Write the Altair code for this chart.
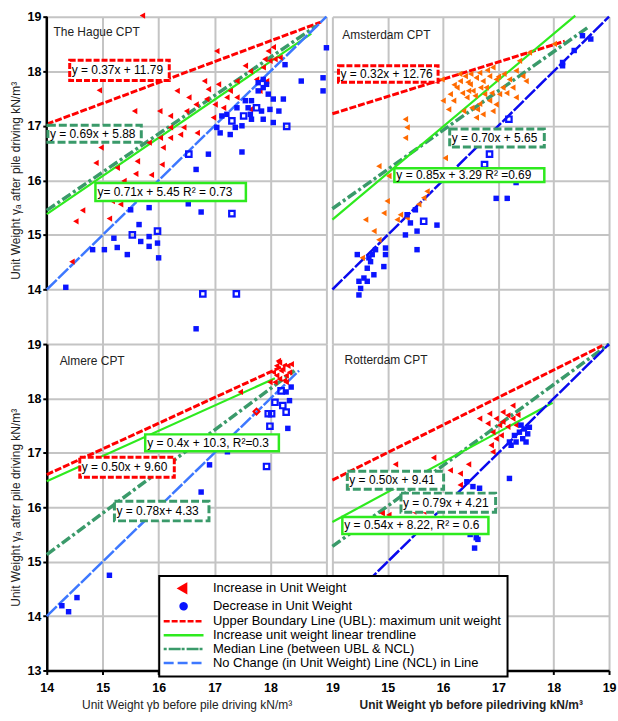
import altair as alt
import pandas as pd

FONT = "Liberation Sans"
RED = "#ff0000"
ORANGE = "#ff6a00"
BLUE = "#0a14ff"
GREEN = "#2eea1e"
MED = "#3a9a6a"
NCL_LIGHT = "#3d78ff"
NCL_DARK = "#0a0aee"

# ---------------- The Hague ----------------
hague_increase = [(15.71, 19.02), (14.94, 17.65), (15.57, 17.27), (14.88, 16.32), (14.97, 16.60),
                  (14.64, 15.45), (14.52, 15.25), (14.45, 14.51), (15.12, 15.30), (15.17, 15.62),
                  (15.32, 15.56), (15.26, 16.23), (15.38, 15.99), (15.59, 16.12), (15.62, 16.35),
                  (15.87, 16.10), (16.06, 16.29), (16.03, 16.78), (16.02, 17.27), (16.21, 17.18),
                  (16.21, 16.78), (16.39, 16.84), (16.45, 16.97), (16.33, 17.64), (16.54, 17.52),
                  (16.50, 17.27), (16.67, 17.39), (16.82, 17.82), (16.89, 17.67), (17.07, 17.76),
                  (17.04, 18.37), (17.22, 17.52), (17.28, 17.64), (17.40, 17.52), (17.16, 17.33),
                  (17.01, 17.39), (16.98, 17.15), (17.40, 17.82), (17.64, 18.00), (17.75, 17.85),
                  (17.87, 18.07), (17.90, 18.22), (17.96, 18.37), (18.05, 18.44), (18.08, 18.22),
                  (17.99, 18.19), (18.17, 18.25), (17.64, 17.30), (17.93, 17.82), (17.81, 17.64),
                  (17.55, 18.10), (16.86, 17.49), (16.69, 16.87), (16.21, 16.97), (16.08, 16.60),
                  (15.83, 16.69)]
hague_decrease = [(14.34, 14.04), (14.82, 14.73), (15.03, 14.73), (15.26, 14.77), (15.44, 14.64),
                  (15.20, 14.94), (15.68, 14.88), (15.83, 14.79), (15.83, 14.97), (15.98, 14.85),
                  (16.00, 14.58), (15.65, 15.19), (15.50, 15.46), (15.83, 15.50), (16.53, 15.57),
                  (16.76, 15.42), (16.67, 16.20), (16.89, 16.48), (17.13, 17.18), (17.22, 17.21),
                  (17.04, 16.97), (17.10, 16.87), (17.28, 16.84), (17.37, 16.97), (17.49, 17.00),
                  (17.49, 16.52), (17.64, 17.21), (17.55, 17.46), (17.66, 17.46), (17.84, 17.27),
                  (17.78, 17.64), (17.87, 17.70), (17.93, 17.76), (17.96, 17.58), (18.05, 17.49),
                  (17.99, 17.30), (18.15, 17.27), (18.05, 17.06), (17.87, 17.12), (17.66, 17.12),
                  (18.23, 17.49), (18.26, 18.12), (18.55, 17.82), (18.94, 17.88), (18.94, 17.64),
                  (17.87, 17.85), (17.78, 17.79), (17.40, 17.33), (17.60, 17.33), (19.00, 18.43),
                  (16.67, 13.28)]
hague_decrease_open = [(15.53, 15.00), (15.98, 15.07), (16.54, 16.48), (16.79, 13.92), (17.39, 13.92),
                       (17.31, 15.39), (18.29, 16.99), (17.75, 17.33), (17.52, 17.18), (17.31, 17.09)]
hague_ubl = [(14.0, 17.03), (18.9, 18.9)]
hague_median = [(14.0, 15.45), (18.82, 18.83)]
hague_trend = [(14.0, 15.38), (18.73, 18.69)]
hague_ncl = [(14.0, 14.0), (19.0, 19.0)]
hague_eqs = [("ubl", "y = 0.37x + 11.79", 14.41, 16.19, 18.20, 17.83),
             ("med", "y = 0.69x + 5.88", 14.02, 15.69, 17.01, 16.70),
             ("trend", "y= 0.71x + 5.45  R² = 0.73", 14.87, 17.56, 15.95, 15.62)]

# ---------------- Amsterdam ----------------
amsterdam_increase = [(15.98, 17.85), (16.00, 17.46), (16.10, 17.30), (16.25, 17.70), (16.31, 17.82),
                      (16.40, 17.91), (16.49, 17.76), (16.54, 17.64), (16.60, 17.88), (16.66, 17.97),
                      (16.72, 17.82), (16.78, 17.70), (16.84, 17.91), (16.90, 18.07), (16.96, 17.85),
                      (16.43, 17.52), (16.52, 17.33), (16.37, 17.27), (16.60, 17.15), (16.72, 17.21),
                      (16.84, 17.46), (16.90, 17.27), (17.02, 17.58), (17.08, 17.70), (17.20, 17.85),
                      (17.32, 18.01), (17.44, 17.91), (17.32, 17.52), (17.26, 17.70), (17.38, 18.19),
                      (17.56, 18.34), (18.01, 18.50), (17.50, 17.82), (16.19, 17.46), (16.13, 17.58),
                      (16.46, 17.64), (16.75, 17.58), (16.96, 17.39), (15.32, 17.12), (15.35, 16.97),
                      (15.32, 16.78), (16.04, 16.41), (14.84, 16.26), (15.02, 16.08), (15.71, 15.80),
                      (15.65, 15.68), (15.56, 15.56), (14.99, 15.62), (14.93, 15.40), (14.60, 15.28),
                      (14.75, 15.07), (15.17, 15.28), (14.84, 14.91), (14.54, 14.58), (15.35, 15.31),
                      (15.23, 15.37), (16.66, 17.40), (16.30, 17.95), (16.80, 18.02), (17.10, 17.95),
                      (16.35, 17.60), (16.58, 17.55), (16.68, 17.70), (16.45, 17.80), (16.88, 17.60),
                      (17.00, 17.90), (16.20, 17.75), (16.62, 17.30), (17.15, 17.60), (16.50, 17.95)]
amsterdam_decrease = [(14.48, 13.90), (14.51, 14.02), (14.57, 14.21), (14.63, 14.39), (14.69, 14.51),
                      (14.75, 14.27), (14.63, 14.15), (14.72, 14.64), (14.78, 14.73), (14.96, 14.76),
                      (14.96, 14.64), (14.93, 14.42), (15.35, 15.37), (15.32, 15.00), (15.41, 15.22),
                      (15.53, 15.07), (15.89, 15.18), (15.53, 14.73), (15.50, 15.46), (16.96, 15.67),
                      (17.16, 15.67), (17.32, 15.96), (18.16, 18.10), (18.37, 18.38), (18.52, 18.65),
                      (18.67, 18.59), (18.16, 18.16), (14.45, 14.64), (14.66, 14.58), (14.48, 14.15)]
amsterdam_decrease_open = [(15.65, 15.25), (16.84, 16.48), (16.75, 16.29), (17.19, 17.12)]
amsterdam_ubl = [(14.0, 17.22), (18.2, 18.55)]
amsterdam_median = [(14.0, 15.48), (18.64, 18.82)]
amsterdam_trend = [(14.0, 15.28), (18.39, 19.02)]
amsterdam_ncl = [(14.0, 14.0), (19.0, 19.0)]
amsterdam_eqs = [("ubl", "y = 0.32x + 12.76", 14.11, 15.91, 18.10, 17.80),
                 ("med", "y = 0.70x + 5.65", 16.12, 17.83, 16.94, 16.61),
                 ("trend", "y = 0.85x + 3.29 R² =0.69", 15.12, 17.83, 16.22, 15.97)]

# ---------------- Almere ----------------
almere_increase = [(17.46, 18.12), (17.99, 18.30), (18.05, 18.48), (18.11, 18.60), (18.16, 18.66),
                   (18.22, 18.54), (18.28, 18.42), (18.31, 18.60), (18.25, 18.33), (18.16, 18.36),
                   (18.34, 18.48), (18.11, 18.42), (18.19, 18.51), (18.08, 18.30), (18.28, 18.30),
                   (18.37, 18.63), (18.14, 18.69)]
almere_increase_open = [(17.75, 17.76)]
almere_decrease = [(14.27, 14.19), (14.39, 14.08), (14.54, 14.34), (15.12, 14.75), (16.76, 16.28),
                   (16.91, 16.78), (17.23, 17.02), (18.31, 17.45), (18.34, 17.96), (18.37, 18.21),
                   (18.28, 18.12)]
almere_decrease_open = [(17.93, 16.75), (17.99, 17.49), (17.96, 17.72), (18.02, 17.72), (18.08, 17.93),
                        (18.19, 18.14), (18.22, 17.87), (18.28, 17.75)]
almere_ubl = [(14.0, 16.60), (18.3, 18.63)]
almere_median = [(14.0, 15.13), (18.43, 18.51)]
almere_trend = [(14.0, 16.48), (18.08, 18.37)]
almere_ncl = [(14.0, 14.0), (18.51, 18.51)]
almere_eqs = [("trend", "y = 0.4x +  10.3,  R²=0.3", 15.76, 18.15, 17.34, 17.03),
              ("ubl", "y = 0.50x + 9.60", 14.59, 16.28, 16.92, 16.55),
              ("med", "y = 0.78x+ 4.33", 15.21, 16.90, 16.11, 15.75)]

# ---------------- Rotterdam ----------------
rotterdam_increase = [(15.14, 16.79), (15.83, 16.91), (16.13, 16.68), (16.31, 16.62), (16.46, 16.79),
                      (16.31, 16.41), (16.66, 17.63), (16.81, 17.54), (16.84, 17.72), (16.96, 17.63),
                      (17.02, 17.51), (17.08, 17.57), (17.17, 17.69), (17.26, 17.63), (17.35, 17.70),
                      (16.90, 17.38), (16.96, 17.26), (16.87, 17.14), (16.90, 17.02), (17.05, 17.32),
                      (17.17, 17.48), (17.08, 17.75), (17.26, 17.87), (17.32, 17.51), (14.90, 15.89),
                      (15.02, 15.86), (15.47, 15.92), (15.65, 15.92)]
rotterdam_decrease = [(16.43, 16.47), (16.54, 16.38), (16.66, 16.35), (16.49, 16.23), (17.20, 16.53),
                      (16.49, 15.50), (16.60, 15.44), (16.63, 15.41), (16.57, 15.25), (17.29, 17.32),
                      (17.38, 17.38), (17.44, 17.26), (17.47, 17.44), (17.53, 17.35), (17.32, 17.20),
                      (17.50, 17.20), (17.41, 17.51), (17.20, 17.20), (17.23, 17.14), (17.56, 17.47)]
rotterdam_ubl = [(14.0, 16.50), (18.88, 18.97)]
rotterdam_median = [(14.0, 15.28), (19.0, 19.0)]
rotterdam_trend = [(14.0, 15.73), (17.98, 17.92)]
rotterdam_ncl = [(14.0, 14.0), (19.0, 19.0)]
rotterdam_eqs = [("med", "y = 0.50x + 9.41", 14.27, 16.01, 16.66, 16.33),
                 ("med", "y = 0.79x + 4.21", 15.24, 16.95, 16.26, 15.91),
                 ("trend", "y = 0.54x + 8.22, R² = 0.6", 14.18, 16.82, 15.82, 15.51)]

# panel names and their position (data coordinates)
panel_titles = [("The Hague  CPT", 14.12, 18.71), ("Amsterdam CPT", 14.18, 18.67),
                ("Almere CPT", 14.23, 18.68), ("Rotterdam CPT", 14.22, 18.71)]

x_ticks = [14, 15, 16, 17, 18, 19]
y_ticks_top = [14, 15, 16, 17, 18, 19]
y_ticks_bottom = [13, 14, 15, 16, 17, 18, 19]

legend_labels = ["Increase in Unit Weight", "Decrease in Unit Weight",
                 "Upper Boundary Line (UBL): maximum unit weight",
                 "Increase unit weight  linear trendline",
                 " Median Line (between UBL & NCL)",
                 "No Change (in Unit Weight) Line (NCL) in Line"]

Y_TITLE = "Unit Weight   γₐ after pile driving kN/m³"
X_TITLE_L = "Unit Weight  γb before pile driving kN/m³"
X_TITLE_R = "Unit Weight  γb before piledriving kN/m³"

W_L, W_R = 281, 278
H_T, H_B = 329, 328


def df(pairs):
    return pd.DataFrame(pairs, columns=["x", "y"])


def eq_df(eqs):
    d = pd.DataFrame(eqs, columns=["kind", "text", "x1", "x2", "y1", "y2"])
    d["ym"] = (d["y1"] + d["y2"]) / 2
    return d


def panel(name, inc, inc_color, dec, dec_open, inc_open, ubl, med, trend, ncl, ncl_color, eqs,
          width, height, left, bottom, xtitle=None, xbold=False, legend=False):
    xs = alt.Scale(domain=[14, 19], nice=False, zero=False)
    ys = alt.Scale(domain=[13, 19], nice=False, zero=False)
    yvals = y_ticks_bottom if bottom else y_ticks_top
    if left:
        yaxis = alt.Axis(values=yvals, title=Y_TITLE, grid=True, domain=bottom, labelFlush=False,
                         ticks=True, labels=True, tickSize=4, labelPadding=2, titlePadding=4)
    else:
        yaxis = alt.Axis(values=yvals, title="", grid=True, domain=False, ticks=False, labels=False)
    if bottom:
        if left:
            xaxis = alt.Axis(values=x_ticks, title=xtitle, grid=True, domain=True, ticks=True,
                             labels=True, tickSize=4, labelPadding=7, titlePadding=6,
                             labelFlush=False,
                             labelExpr="datum.value == 19 ? '' : datum.label",
                             titleFontWeight="normal")
        else:
            xaxis = alt.Axis(values=x_ticks, title=xtitle, grid=True, domain=True, ticks=True,
                             labels=True, tickSize=4, labelPadding=7, titlePadding=6,
                             labelFlush=False,
                             labelExpr="datum.value == 14 ? '19' : datum.label",
                             titleFontWeight="bold" if xbold else "normal")
    else:
        xaxis = alt.Axis(values=x_ticks, title="", grid=True, domain=False, ticks=False, labels=False)

    def X(f="x"):
        return alt.X(f"{f}:Q", scale=xs, axis=xaxis)

    def Y(f="y"):
        return alt.Y(f"{f}:Q", scale=ys, axis=yaxis)

    layers = []
    layers.append(alt.Chart(df(ubl)).mark_line(color=RED, strokeWidth=3, strokeDash=[7, 2])
                  .encode(x=X(), y=Y()))
    if left and not bottom:
        layers.append(alt.Chart(pd.DataFrame({"x": [14], "y": [14], "y2": [19]}))
                      .mark_rule(color="black", strokeWidth=2.5)
                      .encode(x=X(), y=Y(), y2="y2:Q"))
    layers.append(alt.Chart(df(med)).mark_line(color=MED, strokeWidth=3.5, strokeDash=[10, 3, 3, 3])
                  .encode(x=X(), y=Y()))
    layers.append(alt.Chart(df(trend)).mark_line(color=GREEN, strokeWidth=2.2)
                  .encode(x=X(), y=Y()))
    layers.append(alt.Chart(df(ncl)).mark_line(color=ncl_color, strokeWidth=2.5, strokeDash=[14, 2])
                  .encode(x=X(), y=Y()))
    layers.append(alt.Chart(df(inc)).mark_point(shape="triangle-left", filled=True, size=40,
                                                color=inc_color, opacity=1, clip=False)
                  .encode(x=X(), y=Y()))
    if inc_open:
        layers.append(alt.Chart(df(inc_open)).mark_point(shape="diamond", filled=False, size=36,
                                                         color=inc_color, strokeWidth=2, opacity=1)
                      .encode(x=X(), y=Y()))
    layers.append(alt.Chart(df(dec)).mark_point(shape="square", filled=True, size=30,
                                                color=BLUE, opacity=1, clip=False)
                  .encode(x=X(), y=Y()))
    if dec_open:
        layers.append(alt.Chart(df(dec_open)).mark_point(shape="square", filled=False, size=30,
                                                         color=BLUE, strokeWidth=2.2, opacity=1,
                                                         clip=False)
                      .encode(x=X(), y=Y()))
    e = eq_df(eqs)
    styles = {"ubl": dict(stroke=RED, strokeWidth=3, strokeDash=[6, 2]),
              "med": dict(stroke=MED, strokeWidth=3, strokeDash=[8, 3]),
              "trend": dict(stroke=GREEN, strokeWidth=2.5)}
    for kind, st in styles.items():
        sub = e[e["kind"] == kind]
        if len(sub):
            layers.append(alt.Chart(sub).mark_rect(fill="white", **st)
                          .encode(x=X("x1"), x2="x2:Q", y=Y("y1"), y2="y2:Q"))
    layers.append(alt.Chart(e).mark_text(align="left", baseline="middle", dx=2, fontSize=12,
                                         font=FONT, color="black")
                  .encode(x=X("x1"), y=Y("ym"), text="text:N"))
    t = [p for p in panel_titles if p[0] == name]
    layers.append(alt.Chart(pd.DataFrame(t, columns=["text", "x", "y"]))
                  .mark_text(align="left", baseline="middle", fontSize=12, font=FONT, color="#222")
                  .encode(x=X(), y=Y(), text="text:N"))
    if legend:
        leg = alt.Legend(title=None, orient="none", legendX=113, legendY=562,
                         fillColor="white", strokeColor="black", padding=6,
                         labelFont=FONT, labelFontSize=13, labelColor="black", labelLimit=420,
                         symbolSize=100, symbolStrokeWidth=2.5, symbolOffset=12,
                         labelOffset=23, rowPadding=0)
        shapes = ["M-0.9,0L0.5,-0.8L0.5,0.8Z",
                  "M0.6,0A0.6,0.6,0,1,1,-0.6,0A0.6,0.6,0,1,1,0.6,0Z",
                  "M-4,0L4,0", "M-4,0L4,0", "M-4,0L4,0", "M-4,0L4,0"]
        fills = [RED, BLUE, "transparent", "transparent", "transparent", "transparent"]
        strokes = [RED, BLUE, RED, GREEN, MED, NCL_LIGHT]
        dashes = [[1, 0], [1, 0], [6, 2, 6, 2], [1, 0], [3, 2, 12, 1], [10, 4]]
        ld = pd.DataFrame({"series": legend_labels, "x": [10] * 6, "y": [10] * 6})
        layers.append(alt.Chart(ld).transform_filter("false").mark_point(opacity=1, size=100)
                      .encode(x=X(), y=Y(),
                              fill=alt.Fill("series:N", scale=alt.Scale(domain=legend_labels, range=fills), legend=leg),
                              stroke=alt.Stroke("series:N", scale=alt.Scale(domain=legend_labels, range=strokes), legend=leg),
                              shape=alt.Shape("series:N", scale=alt.Scale(domain=legend_labels, range=shapes), legend=leg),
                              strokeDash=alt.StrokeDash("series:N", scale=alt.Scale(domain=legend_labels, range=dashes), legend=leg)))
    return alt.layer(*layers).properties(width=width, height=height)


tl = panel("The Hague  CPT", hague_increase, RED, hague_decrease, hague_decrease_open, None,
           hague_ubl, hague_median, hague_trend, hague_ncl, NCL_LIGHT, hague_eqs,
           W_L, H_T, left=True, bottom=False)
tr = panel("Amsterdam CPT", amsterdam_increase, ORANGE, amsterdam_decrease, amsterdam_decrease_open, None,
           amsterdam_ubl, amsterdam_median, amsterdam_trend, amsterdam_ncl, NCL_DARK, amsterdam_eqs,
           W_R, H_T, left=False, bottom=False)
bl = panel("Almere CPT", almere_increase, RED, almere_decrease, almere_decrease_open, almere_increase_open,
           almere_ubl, almere_median, almere_trend, almere_ncl, NCL_LIGHT, almere_eqs,
           W_L, H_B, left=True, bottom=True, xtitle=X_TITLE_L, legend=True)
br = panel("Rotterdam CPT", rotterdam_increase, RED, rotterdam_decrease, None, None,
           rotterdam_ubl, rotterdam_median, rotterdam_trend, rotterdam_ncl, NCL_DARK, rotterdam_eqs,
           W_R, H_B, left=False, bottom=True, xtitle=X_TITLE_R, xbold=True)

chart = alt.concat(tl, tr, bl, br, columns=2, spacing={"row": 0, "column": 6}, bounds="flush").properties(
    padding={"left": 10, "top": 9, "right": 2, "bottom": 2}
).configure_view(stroke=None).configure_axis(
    labelFont=FONT, labelFontSize=12.5, labelFontWeight="bold", labelColor="black",
    titleFont=FONT, titleFontSize=12, titleColor="#222", titleFontWeight="normal",
    domainColor="black", domainWidth=2.5, tickColor="black", tickWidth=2,
    gridColor="#c4c4c4", gridWidth=2
).configure_legend(strokeWidth=2)

chart.save("out.html", embed_options={"renderer": "svg", "actions": False})
